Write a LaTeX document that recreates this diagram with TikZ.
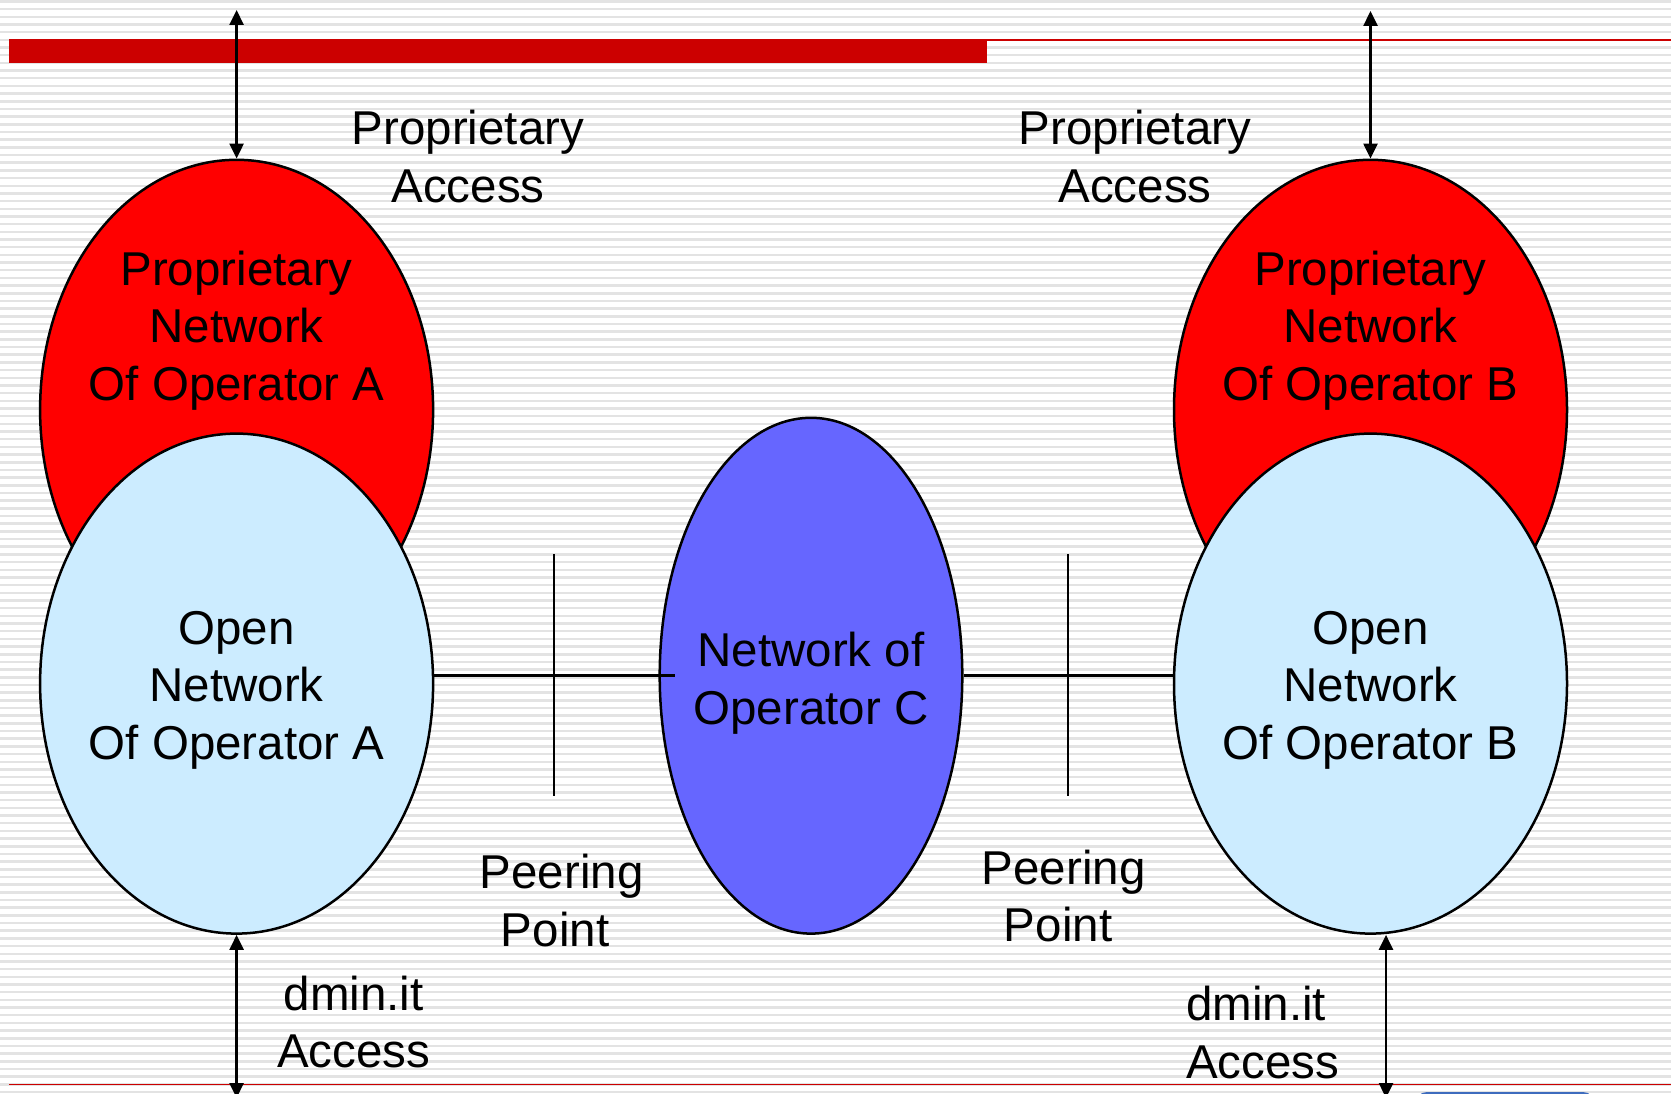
\documentclass[tikz,border=0pt]{standalone}
\usepackage{fontspec}
\setmainfont{Liberation Sans}
\usetikzlibrary{shapes.geometric,arrows.meta}
\definecolor{barred}{HTML}{CC0000}
\definecolor{propred}{HTML}{FF0000}
\definecolor{openblue}{HTML}{CCECFF}
\definecolor{opcpurple}{HTML}{6666FF}
\definecolor{stripegray}{HTML}{E3E3E3}
\definecolor{btnblue}{RGB}{62,108,190}
\begin{document}
\begin{tikzpicture}[x=1pt,y=-1pt,
  netell/.style={ellipse,draw=black,line width=2.5pt,inner sep=0pt},
  bigell/.style={netell,minimum width=393pt,minimum height=500pt},
  lbl/.style={align=center,inner sep=0pt,font=\fontsize{47.5}{57.5}\selectfont},
  link/.style={line width=2.5pt},
  access/.style={line width=2.5pt,{Triangle[length=15pt,width=14pt]}-{Triangle[length=15pt,width=14pt]}}
]
\clip (0,0) rectangle (1671,1094);
\useasboundingbox (0,0) rectangle (1671,1094);

% striped slide background
\fill[white] (0,0) rectangle (1671,1094);
\foreach \k in {0,...,142}
  \fill[stripegray] (0,{0.2+\k*7.68}) rectangle (1671,{2.7+\k*7.68});

% title bar and rules
\fill[barred] (9,39) rectangle (987,63.3);
\draw[barred,line width=1.6pt] (987,40) -- (1671,40);
\draw[barred,line width=1.6pt] (9,1084.5) -- (1671,1084.5);
\fill[btnblue,rounded corners=12pt] (1415,1092) rectangle (1595,1120);

% operator networks
\node[bigell,fill=propred] (propA) at (236.6,409.8) {};
\node[bigell,fill=propred] (propB) at (1370.5,409.8) {};
\node[bigell,fill=openblue] (openA) at (236.6,683.6) {};
\node[bigell,fill=openblue] (openB) at (1370.5,683.6) {};
\node[netell,fill=opcpurple,minimum width=302.6pt,minimum height=515.8pt] (opC) at (811,675.7) {};

\node[lbl] (propAtxt) at (236.6,330.5) {Proprietary\\Network\\Of Operator A};
\node[lbl] (propBtxt) at (1370.5,330.5) {Proprietary\\Network\\Of Operator B};
\node[lbl] (openAtxt) at (236.6,690) {Open\\Network\\Of Operator A};
\node[lbl] (openBtxt) at (1370.5,690) {Open\\Network\\Of Operator B};
\node[lbl] (opCtxt) at (811,683) {Network of\\Operator C};

% peering links
\coordinate (linkA) at (675,675.7);
\draw[link] (openA.east |- opC.west) -- (linkA);
\draw[link] (opC.east) -- (openB.west |- opC.east);
\coordinate (tickAtop) at (554,554);
\coordinate (tickAbot) at (554,796);
\coordinate (tickBtop) at (1067.8,554);
\coordinate (tickBbot) at (1067.8,796);
\draw[link] (tickAtop) -- (tickAbot);
\draw[link] (tickBtop) -- (tickBbot);

% access arrows
\coordinate (topA) at (236.6,10);
\coordinate (topB) at (1370.5,11);
\coordinate (botA) at (236.6,1098);
\coordinate (botB) at (1386,1098);
\draw[access] (topA) -- (propA.north);
\draw[access] (topB) -- (propB.north);
\draw[access] (openA.south) -- (botA);
\draw[access] (openB.south -| botB) -- (botB);

% labels
\node[lbl] (accA) at (468,156.7) {Proprietary\\Access};
\node[lbl] (accB) at (1135,156.7) {Proprietary\\Access};
\node[lbl] (peerA) at (561.6,900.5) {Peering\\Point\kern13pt};
\node[lbl] (peerB) at (1063.6,896) {Peering\\Point\kern11pt};
\node[lbl] (dminA) at (353.8,1022) {dmin.it\\Access};
\node[lbl,align=left,anchor=west] (dminB) at (1186,1032.7) {dmin.it\\Access};
\end{tikzpicture}
\end{document}
